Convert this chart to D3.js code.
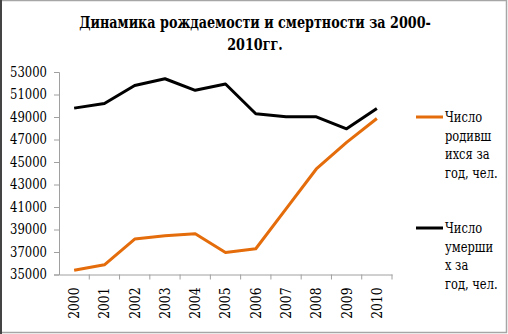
<!DOCTYPE html>
<html>
<head>
<meta charset="utf-8">
<script src="https://cdn.jsdelivr.net/npm/d3@7"></script>
<style>
  html, body { margin: 0; padding: 0; background: #fff; }
  svg { display: block; }
  svg text { font-family: "DejaVu Serif", serif; }
</style>
</head>
<body>
<svg id="chart" width="508" height="334"></svg>
<script>
// Years on the category axis
const years = ["2000","2001","2002","2003","2004","2005","2006","2007","2008","2009","2010"];
// Births per year, persons
const births = [35380, 35860, 38150, 38450, 38630, 36960, 37290, 40830, 44380, 46750, 48870];
// Deaths per year, persons
const deaths = [49790, 50200, 51800, 52400, 51370, 51930, 49290, 49020, 49020, 47950, 49760];
// Value-axis tick labels
const yTicks = [35000, 37000, 39000, 41000, 43000, 45000, 47000, 49000, 51000, 53000];
// Legend entries
const seriesNames = ["Число родивш ихся за год, чел.", "Число умерши х за год, чел."];
const legendLines = [["Число", "родивш", "ихся за", "год, чел."], ["Число", "умерши", "х за", "год, чел."]];
const title = ["Динамика рождаемости и смертности за 2000-", "2010гг."];

const svg = d3.select("#chart");

// frame
svg.append("rect").attr("x", 0.5).attr("y", 0.5).attr("width", 506).attr("height", 332)
  .attr("fill", "#fff").attr("stroke", "#a6a6a6").attr("stroke-width", 1.5);
svg.append("line").attr("x1", 1).attr("x2", 1).attr("y1", 0).attr("y2", 334)
  .attr("stroke", "#444").attr("stroke-width", 2);

// title (horizontally narrowed serif)
svg.append("g").selectAll("text").data(title).join("text")
  .attr("font-weight", "bold").attr("font-size", 17).attr("text-anchor", "middle").attr("fill", "#000")
  .attr("transform", (d, i) => `translate(255,${28 + i * 22}) scale(0.75,1)`).text(d => d);

const x = d3.scaleBand().domain(years).range([59, 392]);
const y = d3.scaleLinear().domain([35000, 53000]).range([274.5, 72]);

// y axis
const yAxis = svg.append("g").attr("transform", "translate(59,0)")
  .call(d3.axisLeft(y).tickValues(yTicks).tickSize(5).tickFormat(d3.format("d")));
yAxis.attr("font-family", null);
yAxis.selectAll("path, line").attr("stroke", "#a0a0a0");
yAxis.selectAll("text").attr("font-size", 14).attr("fill", "#000")
  .attr("x", 0).attr("transform", "translate(-12,0) scale(0.83,1)");

// x axis
const xAxis = svg.append("g").attr("transform", "translate(0,274.5)")
  .call(d3.axisBottom(x).tickSize(0).tickSizeOuter(0));
xAxis.attr("font-family", null);
xAxis.select("path").attr("stroke", "#a0a0a0");
xAxis.selectAll(".tick line").remove();
xAxis.selectAll("text").attr("font-size", 14).attr("fill", "#000")
  .attr("text-anchor", "end").attr("x", 0).attr("y", 0).attr("dy", "0.35em")
  .attr("transform", "rotate(-90) translate(-13,0) scale(0.88,1)");
// ticks between categories
svg.append("g").selectAll("line").data(years).join("line")
  .attr("x1", d => x(d) + x.bandwidth()).attr("x2", d => x(d) + x.bandwidth())
  .attr("y1", 274.5).attr("y2", 279.5).attr("stroke", "#a0a0a0");

const line = d3.line().x((d, i) => x(years[i]) + x.bandwidth() / 2).y(d => y(d));
const colors = ["#e46c0a", "#000000"];

[births, deaths].forEach((s, k) => {
  svg.append("path").datum(s).attr("d", line).attr("fill", "none")
    .attr("stroke", colors[k]).attr("stroke-width", 3).attr("stroke-linejoin", "round");
});

// legend
const legendY = [117, 228];
legendLines.forEach((lines, k) => {
  const g = svg.append("g").attr("aria-label", seriesNames[k]);
  g.append("line").attr("x1", 416).attr("x2", 443).attr("y1", legendY[k]).attr("y2", legendY[k])
    .attr("stroke", colors[k]).attr("stroke-width", 3);
  g.selectAll("text").data(lines).join("text")
    .attr("font-size", 14).attr("fill", "#000")
    .attr("transform", (d, i) => `translate(445,${legendY[k] + 5 + i * 18.6}) scale(0.82,1)`)
    .text(d => d);
});
</script>
</body>
</html>
